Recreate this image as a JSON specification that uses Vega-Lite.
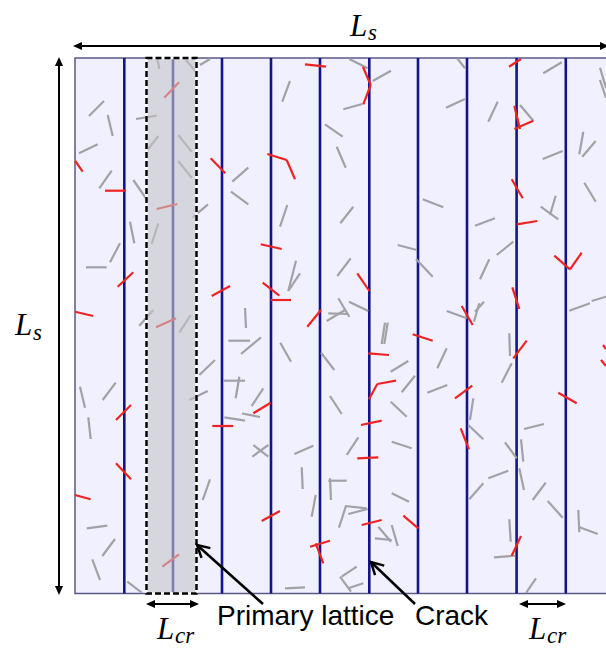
{
"$schema":"https://vega.github.io/schema/vega-lite/v6.json",
"width":606,"height":651,"padding":0,"autosize":{"type":"none"},
"background":"white",
"config":{"view":{"stroke":null}},
"datasets":{
"square":[{"x":75,"y":58,"x2":616,"y2":593.5}],
"shade":[{"x":146.5,"y":58,"x2":196.5,"y2":593.5}],
"lattice":[{"x":124.3,"y":58,"x2":124.3,"y2":593.5},{"x":173,"y":58,"x2":173,"y2":593.5},{"x":222,"y":58,"x2":222,"y2":593.5},{"x":271,"y":58,"x2":271,"y2":593.5},{"x":320,"y":58,"x2":320,"y2":593.5},{"x":369.3,"y":58,"x2":369.3,"y2":593.5},{"x":418,"y":58,"x2":418,"y2":593.5},{"x":467,"y":58,"x2":467,"y2":593.5},{"x":516.6,"y":58,"x2":516.6,"y2":593.5},{"x":565.8,"y":58,"x2":565.8,"y2":593.5}],
"fibers":[
{"k":"g","x":89,"y":116,"x2":104,"y2":101},{"k":"g","x":107.7,"y":115,"x2":112.7,"y2":136},{"k":"g","x":136,"y":119,"x2":156.7,"y2":115.7},{"k":"g","x":146,"y":151.7,"x2":158.3,"y2":136},{"k":"g","x":178.3,"y":135,"x2":191.7,"y2":151.7},{"k":"g","x":178.3,"y":161,"x2":191.7,"y2":177.7},{"k":"g","x":79,"y":153.3,"x2":97.7,"y2":144.3},{"k":"g","x":99.3,"y":188.3,"x2":111.7,"y2":170.7},{"k":"g","x":133.3,"y":180,"x2":146,"y2":198.3},{"k":"g","x":192.7,"y":217.3,"x2":208,"y2":204.3},{"k":"g","x":232.3,"y":181.7,"x2":248.3,"y2":167.7},{"k":"g","x":231,"y":191.7,"x2":248.3,"y2":204.3},{"k":"g","x":130,"y":221.7,"x2":134.3,"y2":243.3},{"k":"g","x":151.7,"y":244,"x2":158.3,"y2":223.3},{"k":"g","x":157.3,"y":58.5,"x2":159.3,"y2":69},{"k":"g","x":186,"y":60,"x2":196,"y2":71.7},{"k":"g","x":200,"y":65,"x2":210,"y2":59},
{"k":"g","x":282.3,"y":101.7,"x2":290,"y2":81},{"k":"g","x":349.3,"y":59,"x2":367.7,"y2":68.3},{"k":"g","x":372.7,"y":81,"x2":391,"y2":70.7},{"k":"g","x":343.3,"y":109.3,"x2":362.3,"y2":104},{"k":"g","x":325,"y":124.3,"x2":342.7,"y2":136.7},{"k":"g","x":336.7,"y":146.7,"x2":345.7,"y2":167.7},{"k":"g","x":280,"y":226.7,"x2":287.3,"y2":205},{"k":"g","x":340.3,"y":223.3,"x2":353.3,"y2":206.7},
{"k":"g","x":457.3,"y":58.5,"x2":465,"y2":68.3},{"k":"g","x":446,"y":107.7,"x2":465,"y2":99},{"k":"g","x":488.3,"y":121.7,"x2":497.7,"y2":101.7},{"k":"g","x":543.3,"y":73.3,"x2":561.7,"y2":62.3},{"k":"g","x":600,"y":67.7,"x2":606,"y2":88},{"k":"g","x":600,"y":80,"x2":606,"y2":98},{"k":"g","x":520,"y":105,"x2":533.3,"y2":120.7},{"k":"g","x":542.7,"y":159,"x2":562.7,"y2":151},{"k":"g","x":579.3,"y":154.3,"x2":583.3,"y2":131.7},{"k":"g","x":582.3,"y":156.7,"x2":595.7,"y2":141},{"k":"g","x":584.3,"y":182.7,"x2":595.7,"y2":201.7},{"k":"g","x":422.7,"y":199.3,"x2":443.3,"y2":207.3},{"k":"g","x":475,"y":225.7,"x2":495,"y2":218.3},{"k":"g","x":540.7,"y":206.7,"x2":558.3,"y2":219.3},{"k":"g","x":550,"y":215,"x2":555.7,"y2":195.7},
{"k":"g","x":86,"y":267.3,"x2":106.7,"y2":267.3},{"k":"g","x":110,"y":262.3,"x2":120,"y2":243.3},{"k":"g","x":139.3,"y":325.7,"x2":153.3,"y2":310},{"k":"g","x":179.3,"y":332.7,"x2":190.7,"y2":315},{"k":"g","x":245,"y":308,"x2":246,"y2":328},{"k":"g","x":228.3,"y":340.7,"x2":250,"y2":340.7},{"k":"g","x":80,"y":386.7,"x2":85,"y2":407.7},{"k":"g","x":102.7,"y":400,"x2":115.7,"y2":382.7},{"k":"g","x":199.3,"y":375,"x2":215,"y2":360},{"k":"g","x":189.3,"y":400,"x2":207.7,"y2":391},{"k":"g","x":223.3,"y":380.7,"x2":245,"y2":380.7},{"k":"g","x":235.7,"y":398.3,"x2":239.3,"y2":376.7},{"k":"g","x":241,"y":354,"x2":261,"y2":337.3},{"k":"g","x":224.3,"y":417.3,"x2":245,"y2":420.7},{"k":"g","x":242,"y":413.5,"x2":260,"y2":417},
{"k":"g","x":288.3,"y":291,"x2":296,"y2":260.7},{"k":"g","x":288.3,"y":291,"x2":300,"y2":273.3},{"k":"g","x":337.3,"y":276,"x2":350.7,"y2":258.3},{"k":"g","x":280.3,"y":342.7,"x2":291,"y2":361.7},{"k":"g","x":338.3,"y":298.3,"x2":349.3,"y2":316.7},{"k":"g","x":326.7,"y":321,"x2":345,"y2":310},{"k":"g","x":328.3,"y":313.3,"x2":348.3,"y2":314},{"k":"g","x":349,"y":301.7,"x2":368.3,"y2":311},{"k":"g","x":397.7,"y":245,"x2":416.7,"y2":250},{"k":"g","x":416,"y":259,"x2":432.7,"y2":276.7},{"k":"g","x":381.7,"y":344,"x2":385,"y2":322.7},{"k":"g","x":384.3,"y":344,"x2":387.7,"y2":322.7},{"k":"g","x":321,"y":352.7,"x2":334.3,"y2":370},{"k":"g","x":390.7,"y":371.7,"x2":408.3,"y2":361},{"k":"g","x":401.7,"y":392.3,"x2":415,"y2":375.7},{"k":"g","x":251.7,"y":406,"x2":263.3,"y2":388.3},{"k":"g","x":330,"y":396,"x2":341.7,"y2":414},{"k":"g","x":390.7,"y":401.7,"x2":406.7,"y2":416.7},
{"k":"g","x":496.7,"y":255,"x2":513.3,"y2":241.7},{"k":"g","x":480,"y":279.3,"x2":489.3,"y2":259.3},{"k":"g","x":446.7,"y":311,"x2":466.7,"y2":318.3},{"k":"g","x":474,"y":321.7,"x2":479.3,"y2":303.3},{"k":"g","x":475,"y":311.7,"x2":484,"y2":301.7},{"k":"g","x":509.3,"y":333.3,"x2":510,"y2":356},{"k":"g","x":501.7,"y":382.7,"x2":511.7,"y2":363.3},{"k":"g","x":437.3,"y":368.3,"x2":446.7,"y2":348.3},{"k":"g","x":427.3,"y":392.7,"x2":447.3,"y2":385},{"k":"g","x":470,"y":420,"x2":473.3,"y2":398.3},{"k":"g","x":569.3,"y":310.7,"x2":590,"y2":303.3},{"k":"g","x":591.7,"y":301,"x2":606,"y2":296.7},
{"k":"g","x":88.3,"y":417.3,"x2":90.7,"y2":439},{"k":"g","x":202.7,"y":500,"x2":210,"y2":479.3},{"k":"g","x":86.7,"y":528.3,"x2":107.3,"y2":525.7},{"k":"g","x":102.3,"y":556,"x2":115,"y2":539},{"k":"g","x":92.3,"y":559.3,"x2":100,"y2":580},{"k":"g","x":127.3,"y":581.7,"x2":141.7,"y2":592.7},
{"k":"g","x":252.3,"y":456.7,"x2":268.3,"y2":445},{"k":"g","x":253.3,"y":445,"x2":268.3,"y2":456.7},{"k":"g","x":294.3,"y":454,"x2":313.3,"y2":445.7},{"k":"g","x":346.7,"y":455,"x2":358.3,"y2":437.3},{"k":"g","x":301.7,"y":467.3,"x2":302.7,"y2":489},{"k":"g","x":311.7,"y":516.7,"x2":315.7,"y2":495},{"k":"g","x":328.3,"y":480.7,"x2":346.7,"y2":480.7},{"k":"g","x":330,"y":478.3,"x2":331,"y2":500},{"k":"g","x":339,"y":527.7,"x2":345.7,"y2":506.7},{"k":"g","x":345,"y":506,"x2":366.7,"y2":508.3},{"k":"g","x":348.3,"y":514,"x2":367.7,"y2":509},{"k":"g","x":391.7,"y":441.7,"x2":411.7,"y2":448.3},{"k":"g","x":391.7,"y":493.3,"x2":409,"y2":501.7},{"k":"g","x":375,"y":538.3,"x2":391.7,"y2":540},{"k":"g","x":378.3,"y":526.7,"x2":391,"y2":541.7},{"k":"g","x":391.7,"y":525,"x2":397.7,"y2":546},{"k":"g","x":285,"y":588.3,"x2":305,"y2":587.3},{"k":"g","x":341.7,"y":576.7,"x2":356.7,"y2":566.7},{"k":"g","x":340,"y":576.7,"x2":351,"y2":591.7},{"k":"g","x":348.3,"y":588.3,"x2":363.3,"y2":583.3},
{"k":"g","x":468.3,"y":425,"x2":483.3,"y2":439.3},{"k":"g","x":505,"y":442.3,"x2":516.7,"y2":458.3},{"k":"g","x":521,"y":439.3,"x2":523.3,"y2":461.7},{"k":"g","x":524,"y":429,"x2":544,"y2":424},{"k":"g","x":488.3,"y":478.3,"x2":508.3,"y2":470.7},{"k":"g","x":469.3,"y":499.3,"x2":483.3,"y2":483.3},{"k":"g","x":519.3,"y":468.3,"x2":524,"y2":490},{"k":"g","x":532.7,"y":500,"x2":545.7,"y2":482.7},{"k":"g","x":547.7,"y":501,"x2":562.7,"y2":517.7},{"k":"g","x":578.3,"y":510,"x2":579.3,"y2":532.3},{"k":"g","x":578.3,"y":526.7,"x2":597.7,"y2":534},{"k":"g","x":509.3,"y":519.3,"x2":510.7,"y2":541.7},{"k":"g","x":494,"y":557.3,"x2":515,"y2":555.7},{"k":"g","x":526,"y":593,"x2":536,"y2":578.3},
{"k":"r","x":164.3,"y":97.7,"x2":179,"y2":82.3},{"k":"r","x":75.3,"y":161,"x2":82.7,"y2":171.7},{"k":"r","x":105,"y":190.7,"x2":126,"y2":190.7},{"k":"r","x":210.7,"y":158.3,"x2":225.3,"y2":173.3},{"k":"r","x":156.7,"y":209,"x2":177.3,"y2":204},{"k":"r","x":305,"y":64.3,"x2":326,"y2":66.7},{"k":"r","x":363,"y":67,"x2":370.7,"y2":85},{"k":"r","x":370.7,"y":85,"x2":363.3,"y2":104.3},{"k":"r","x":267.3,"y":154,"x2":286.7,"y2":160},{"k":"r","x":286.7,"y":160,"x2":295,"y2":179.3},{"k":"r","x":514.3,"y":105.7,"x2":520,"y2":129},{"k":"r","x":514.3,"y":129,"x2":533.3,"y2":120.7},{"k":"r","x":509,"y":66.7,"x2":521,"y2":59},{"k":"r","x":511.7,"y":179.3,"x2":522.7,"y2":198.3},{"k":"r","x":516.7,"y":224.3,"x2":537.3,"y2":221},{"k":"r","x":117.7,"y":286.7,"x2":133.3,"y2":272.3},{"k":"r","x":75,"y":311.7,"x2":93.3,"y2":316},{"k":"r","x":156,"y":327.3,"x2":176,"y2":318.3},{"k":"r","x":211.7,"y":296,"x2":230,"y2":286},{"k":"r","x":116,"y":420,"x2":131,"y2":405},{"k":"r","x":260.7,"y":244.3,"x2":281.7,"y2":249},{"k":"r","x":262.7,"y":282.7,"x2":279.3,"y2":295.7},{"k":"r","x":270.7,"y":300,"x2":291,"y2":300},{"k":"r","x":307.3,"y":326.7,"x2":321,"y2":310},{"k":"r","x":357.3,"y":273.3,"x2":369.3,"y2":291},{"k":"r","x":368.3,"y":353.3,"x2":389,"y2":355},{"k":"r","x":377.3,"y":384,"x2":396,"y2":380.7},{"k":"r","x":369,"y":399.3,"x2":377.3,"y2":384},{"k":"r","x":412.7,"y":334.3,"x2":432.7,"y2":340.7},{"k":"r","x":253.3,"y":413.3,"x2":270.7,"y2":402.7},{"k":"r","x":461.7,"y":306,"x2":472.7,"y2":325},{"k":"r","x":512.3,"y":287.3,"x2":519.3,"y2":309},{"k":"r","x":513.3,"y":358.3,"x2":526.7,"y2":340.7},{"k":"r","x":554.3,"y":255.7,"x2":570,"y2":269.3},{"k":"r","x":570,"y":269.3,"x2":581.7,"y2":252.7},{"k":"r","x":455,"y":398.3,"x2":472.3,"y2":385.7},{"k":"r","x":558.3,"y":392.7,"x2":576.7,"y2":403.3},{"k":"r","x":116,"y":463.3,"x2":131,"y2":479.3},{"k":"r","x":75,"y":495,"x2":90.7,"y2":499.3},{"k":"r","x":212.3,"y":426,"x2":233.3,"y2":426},{"k":"r","x":162.3,"y":566.7,"x2":179,"y2":554.3},{"k":"r","x":361,"y":425,"x2":381.7,"y2":420.7},{"k":"r","x":357.3,"y":458.3,"x2":378.3,"y2":457.3},{"k":"r","x":261.7,"y":521,"x2":280,"y2":511},{"k":"r","x":310,"y":546.7,"x2":330,"y2":540.7},{"k":"r","x":315.7,"y":543.3,"x2":323.3,"y2":563.3},{"k":"r","x":361.7,"y":525,"x2":381.7,"y2":520},{"k":"r","x":403.3,"y":515.7,"x2":418.3,"y2":528.3},{"k":"r","x":460.7,"y":428.3,"x2":469,"y2":449.3},{"k":"r","x":511.7,"y":555.7,"x2":521,"y2":536},{"k":"r","x":603,"y":345,"x2":606,"y2":349},{"k":"r","x":601,"y":360,"x2":606,"y2":366}
],
"arrows":[{"x":76,"y":46,"x2":620,"y2":46},{"x":59,"y":61,"x2":59,"y2":591},{"x":150,"y":604,"x2":195,"y2":604},{"x":523,"y":604,"x2":562,"y2":604}],
"pointers":[{"x":263,"y":604,"x2":197.5,"y2":545.5},{"x":415,"y":604,"x2":371.5,"y2":562.5}],
"heads":[{"x":73,"y":46,"ang":270},{"x":609,"y":46,"ang":90},{"x":59,"y":57,"ang":0},{"x":59,"y":595,"ang":180},{"x":146,"y":604,"ang":270},{"x":199,"y":604,"ang":90},{"x":519,"y":604,"ang":270},{"x":566,"y":604,"ang":90}],
"ptrheads":[{"x":197,"y":545,"ang":312},{"x":371,"y":562,"ang":314}],
"sans":[{"x":217,"y":625,"t":"Primary lattice"},{"x":415,"y":625,"t":"Crack"}],
"bigL":[{"x":350,"y":36,"t":"L"},{"x":15,"y":335,"t":"L"},{"x":157,"y":639,"t":"L"},{"x":529,"y":639,"t":"L"}],
"subs":[{"x":368,"y":40,"t":"s"},{"x":33,"y":340,"t":"s"},{"x":175,"y":643,"t":"cr"},{"x":547,"y":643,"t":"cr"}]
},
"encoding":{
"x":{"field":"x","type":"quantitative","scale":{"domain":[0,606],"nice":false,"zero":false},"axis":null},
"y":{"field":"y","type":"quantitative","scale":{"domain":[0,651],"nice":false,"zero":false,"reverse":true},"axis":null}
},
"layer":[
{"data":{"name":"square"},"mark":{"type":"rect","fill":"#f0f0fe","stroke":"#5a5a86","strokeWidth":1.5},"encoding":{"x2":{"field":"x2"},"y2":{"field":"y2"}}},
{"data":{"name":"lattice"},"mark":{"type":"rule","color":"#14148a","strokeWidth":2.6},"encoding":{"x2":{"field":"x2"},"y2":{"field":"y2"}}},
{"data":{"name":"fibers"},"mark":{"type":"rule","strokeWidth":2.2},"encoding":{"x2":{"field":"x2"},"y2":{"field":"y2"},"color":{"field":"k","type":"nominal","scale":{"domain":["g","r"],"range":["#a2a2a6","#ee2424"]},"legend":null}}},
{"data":{"name":"shade"},"mark":{"type":"rect","fill":"#c4c5c8","fillOpacity":0.6,"stroke":"white","strokeWidth":2.5},"encoding":{"x2":{"field":"x2"},"y2":{"field":"y2"}}},
{"data":{"name":"shade"},"mark":{"type":"rect","fill":null,"fillOpacity":0,"stroke":"black","strokeWidth":2.5,"strokeDash":[6,3]},"encoding":{"x2":{"field":"x2"},"y2":{"field":"y2"}}},
{"data":{"name":"arrows"},"mark":{"type":"rule","color":"black","strokeWidth":2},"encoding":{"x2":{"field":"x2"},"y2":{"field":"y2"}}},
{"data":{"name":"pointers"},"mark":{"type":"rule","color":"black","strokeWidth":2.5},"encoding":{"x2":{"field":"x2"},"y2":{"field":"y2"}}},
{"data":{"name":"heads"},"mark":{"type":"point","shape":"M0,0 L-0.45,1 L0.45,1 Z","filled":true,"color":"black","opacity":1,"size":324},"encoding":{"angle":{"field":"ang","type":"quantitative","scale":null}}},
{"data":{"name":"ptrheads"},"mark":{"type":"point","shape":"M-0.55,1 L0,0 L0.55,1","filled":false,"color":"black","opacity":1,"strokeWidth":2.5,"size":576},"encoding":{"angle":{"field":"ang","type":"quantitative","scale":null}}},
{"data":{"name":"sans"},"mark":{"type":"text","font":"Liberation Sans","fontSize":28,"align":"left","baseline":"alphabetic","color":"black"},"encoding":{"text":{"field":"t"}}},
{"data":{"name":"bigL"},"mark":{"type":"text","font":"Liberation Serif","fontStyle":"italic","fontSize":31,"align":"left","baseline":"alphabetic","color":"black"},"encoding":{"text":{"field":"t"}}},
{"data":{"name":"subs"},"mark":{"type":"text","font":"Liberation Serif","fontStyle":"italic","fontSize":23,"align":"left","baseline":"alphabetic","color":"black"},"encoding":{"text":{"field":"t"}}}
]
}
